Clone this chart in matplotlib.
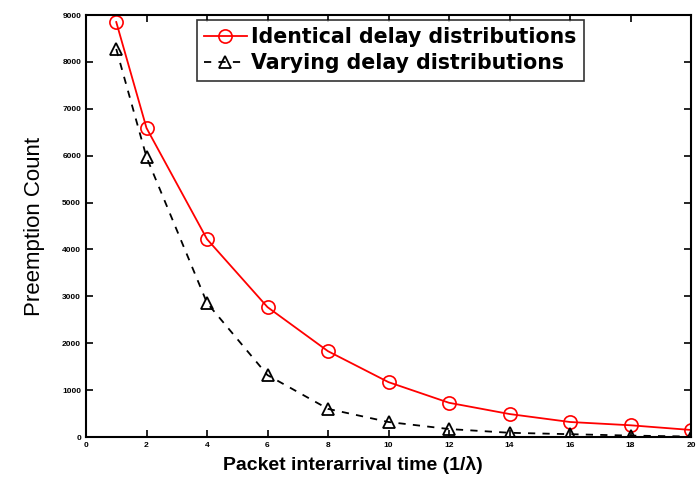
import numpy as np
import matplotlib.pyplot as plt

# data
x = [1, 2, 4, 6, 8, 10, 12, 14, 16, 18, 20]
identical = [8850, 6590, 4220, 2770, 1830, 1170, 730, 490, 320, 250, 150]
varying = [8275, 5970, 2860, 1320, 600, 320, 170, 90, 60, 30, 10]

xticks = list(range(0, 21, 2))
yticks = list(range(0, 9001, 1000))

fig = plt.figure(figsize=(6.96, 4.8), dpi=100)
ax = fig.add_axes([86 / 696, 1 - 437 / 480, 605 / 696, 422 / 480])

ax.plot(x, identical, '-o', color='red', lw=1.3, ms=9.5, mfc='none', mew=1.2,
        label='Identical delay distributions')
ax.plot(x, varying, '--^', color='black', lw=1.3, ms=9, mfc='none', mew=1.3,
        dashes=(4, 4), label='Varying delay distributions')

ax.set_xlim(0, 20)
ax.set_ylim(0, 9000)
ax.set_xticks(xticks)
ax.set_yticks(yticks)
ax.tick_params(direction='in', top=True, right=True, labelsize=6, length=5, width=1.2)
for lab in ax.get_xticklabels() + ax.get_yticklabels():
    lab.set_family('Liberation Sans')
    lab.set_fontweight('bold')
for s in ax.spines.values():
    s.set_linewidth(1.5)

ax.set_xlabel('Packet interarrival time (1/\u03bb)', fontsize=14, fontweight='bold',
              family=['Liberation Sans', 'DejaVu Sans'], labelpad=5)
ax.xaxis.set_label_coords(0.441, -0.045, transform=ax.transAxes)
ax.xaxis.label.set_va('top')
ax.set_ylabel('Preemption Count', fontsize=16, family='Liberation Sans', labelpad=12)

leg = ax.legend(loc='upper left', bbox_to_anchor=(0.183, 0.988), fontsize=14.8,
                frameon=True, fancybox=False, edgecolor='black', handlelength=2.1,
                handletextpad=0.2, borderpad=0.35, labelspacing=0.3, borderaxespad=0)
leg.get_frame().set_linewidth(1.2)
for t in leg.get_texts():
    t.set_fontweight('bold')

fig.savefig('out.png', dpi=100)
